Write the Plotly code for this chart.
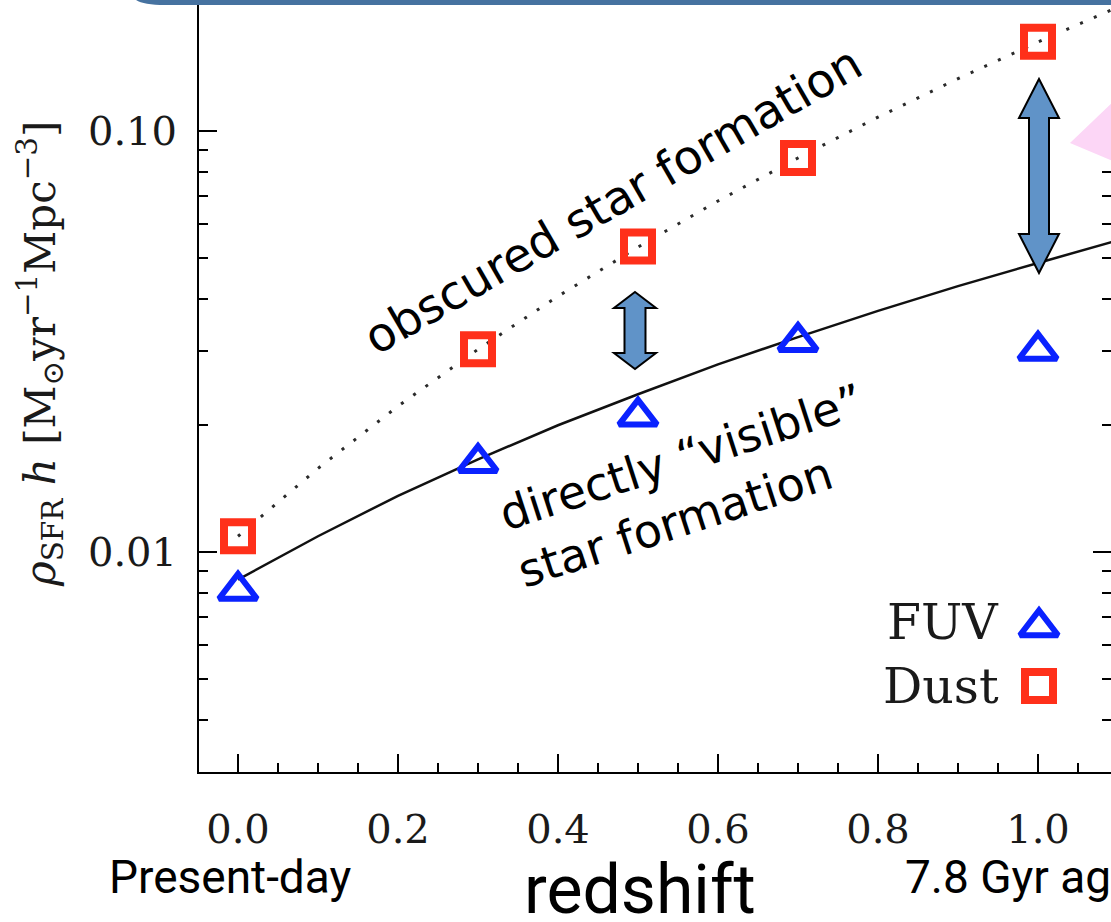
import plotly.graph_objects as go

# ---------------- data ----------------
REDSHIFT_POINTS = [0.0, 0.3, 0.5, 0.7, 1.0]
FUV_SFRD = [0.0081, 0.0163, 0.0210, 0.0316, 0.0301]
DUST_SFRD = [0.0109, 0.0303, 0.0532, 0.0863, 0.163]

CURVE_Z = [0.0, 0.1, 0.2, 0.3, 0.4, 0.5, 0.6, 0.7, 0.8, 0.9, 1.0, 1.1]
VISIBLE_CURVE = [0.0086, 0.0109, 0.0136, 0.0166, 0.0200, 0.0237, 0.0279,
                 0.0324, 0.0374, 0.0428, 0.0486, 0.0550]
OBSCURED_CURVE = [0.0109, 0.0158, 0.0222, 0.0303, 0.0405, 0.0530, 0.0682,
                  0.0863, 0.1079, 0.1332, 0.1627, 0.197]

X_TICK_VALUES = [0.0, 0.2, 0.4, 0.6, 0.8, 1.0]
X_TICK_LABELS = ["0.0", "0.2", "0.4", "0.6", "0.8", "1.0"]
Y_TICK_VALUES = [0.01, 0.1]
Y_TICK_LABELS = ["0.01", "0.10"]
Y_MINOR_VALUES = [0.004, 0.005, 0.006, 0.007, 0.008, 0.009,
                  0.02, 0.03, 0.04, 0.05, 0.06, 0.07, 0.08, 0.09, 0.2]
LEGEND_LABELS = ["FUV", "Dust"]

# ---------------- layout constants ----------------
W, H = 1111, 922
ML, MR, MT, MB = 199, 0, 0, 150
PW, PH = W - ML - MR, H - MT - MB


def px(x):
    return (x - ML) / PW


def py(y):
    return (MT + PH - y) / PH


SERIF = "DejaVu Serif"
SANS = "DejaVu Sans"
SLIDE = "Roboto"
BLUE = "#0a22ff"
RED = "#ff301a"
ARROW_FILL = "#6093c8"
TRI_SIZE, TRI_LW = 33, 6
SQ_SIZE, SQ_LW = 28, 8

fig = go.Figure()

fig.add_trace(go.Scatter(x=CURVE_Z, y=OBSCURED_CURVE, mode="lines",
                         line=dict(color="#2a2a2a", width=3, dash="3px,12px"),
                         hoverinfo="skip", showlegend=False))
fig.add_trace(go.Scatter(x=CURVE_Z, y=VISIBLE_CURVE, mode="lines",
                         line=dict(color="#111111", width=2.5),
                         hoverinfo="skip", showlegend=False))
fig.add_trace(go.Scatter(x=REDSHIFT_POINTS, y=FUV_SFRD, mode="markers", name="FUV",
                         marker=dict(symbol="triangle-up-open", size=TRI_SIZE, color=BLUE,
                                     opacity=1, line=dict(color=BLUE, width=TRI_LW)),
                         showlegend=False))
fig.add_trace(go.Scatter(x=REDSHIFT_POINTS, y=DUST_SFRD, mode="markers", name="Dust",
                         marker=dict(symbol="square-open", size=SQ_SIZE, color=RED,
                                     opacity=1, line=dict(color=RED, width=SQ_LW)),
                         showlegend=False))
# trace that carries the mirrored right-hand y axis ticks
fig.add_trace(go.Scatter(x=REDSHIFT_POINTS, y=DUST_SFRD, mode="markers", yaxis="y2",
                         marker=dict(opacity=0), hoverinfo="skip", showlegend=False))
# legend keys (symbols to the right of the text, as in the original)
KEY_X = [px(1039), px(1039)]
KEY_Y = [py(627), py(686)]
fig.add_trace(go.Scatter(x=KEY_X, y=KEY_Y, xaxis="x3", yaxis="y3", mode="markers",
                         marker=dict(symbol=["triangle-up-open", "square-open"],
                                     size=[TRI_SIZE, SQ_SIZE], color=[BLUE, RED], opacity=1,
                                     line=dict(color=[BLUE, RED], width=[TRI_LW, SQ_LW])),
                         hoverinfo="skip", showlegend=False))

YR = [-2.5226, -0.6888]
XR = [-0.04875, 1.09125]
axis_font = dict(family=SERIF, size=40, color="#1a1a1a")

fig.update_layout(
    width=W, height=H,
    margin=dict(l=ML, r=MR, t=MT, b=MB, pad=0),
    paper_bgcolor="white", plot_bgcolor="white",
    showlegend=False,
    xaxis=dict(range=XR, showgrid=False, zeroline=False, showline=True,
               linecolor="black", linewidth=2,
               tickmode="array", tickvals=X_TICK_VALUES, ticktext=X_TICK_LABELS,
               ticks="inside", ticklen=18, tickwidth=2, tickcolor="black",
               minor=dict(ticks="inside", ticklen=9, tickwidth=1.5, tickcolor="black",
                          dtick=0.05, showgrid=False),
               tickfont=axis_font, ticklabelstandoff=21),
    yaxis=dict(type="log", range=YR, showgrid=False, zeroline=False, showline=True,
               linecolor="black", linewidth=2,
               tickmode="array", tickvals=Y_TICK_VALUES, ticktext=Y_TICK_LABELS,
               ticks="inside", ticklen=18, tickwidth=2, tickcolor="black",
               minor=dict(ticks="inside", ticklen=9, tickwidth=1.5, tickcolor="black",
                          tickmode="array", tickvals=Y_MINOR_VALUES, showgrid=False),
               tickfont=axis_font, ticklabelstandoff=12),
    yaxis2=dict(type="log", range=YR, overlaying="y", side="right", anchor="x",
                showgrid=False, zeroline=False, showline=False, showticklabels=False,
                tickmode="array", tickvals=Y_TICK_VALUES,
                ticks="inside", ticklen=18, tickwidth=2, tickcolor="black",
                minor=dict(ticks="inside", ticklen=9, tickwidth=1.5, tickcolor="black",
                           tickmode="array", tickvals=Y_MINOR_VALUES, showgrid=False)),
    xaxis3=dict(range=[0, 1], overlaying="x", visible=False, fixedrange=True),
    yaxis3=dict(range=[0, 1], overlaying="y", visible=False, fixedrange=True, anchor="x3"),
)


def double_arrow(cx, top, bottom, head_h, head_w, shaft_w):
    hw, sw = head_w / 2, shaft_w / 2
    pts = [(cx, top), (cx + hw, top + head_h), (cx + sw, top + head_h),
           (cx + sw, bottom - head_h), (cx + hw, bottom - head_h), (cx, bottom),
           (cx - hw, bottom - head_h), (cx - sw, bottom - head_h),
           (cx - sw, top + head_h), (cx - hw, top + head_h)]
    return "M " + " L ".join(f"{px(a):.5f},{py(b):.5f}" for a, b in pts) + " Z"


shapes = [
    # slide banner at the top
    dict(type="path", xref="paper", yref="paper",
         path=(f"M {px(133):.5f},{py(-3):.5f} Q {px(138):.5f},{py(5):.5f} {px(165):.5f},{py(5):.5f} "
               f"L {px(1120):.5f},{py(5):.5f} L {px(1120):.5f},{py(-3):.5f} Z"),
         fillcolor="#4672a0", line=dict(width=0)),
    # pink pointer at the right edge
    dict(type="path", xref="paper", yref="paper",
         path=f"M {px(1070):.5f},{py(143):.5f} L {px(1115):.5f},{py(100):.5f} L {px(1115):.5f},{py(162):.5f} Z",
         fillcolor="#fcd6f6", line=dict(width=0)),
    dict(type="path", xref="paper", yref="paper",
         path=double_arrow(635, 292, 369, 16, 42, 21),
         fillcolor=ARROW_FILL, line=dict(color="black", width=2)),
    dict(type="path", xref="paper", yref="paper",
         path=double_arrow(1039, 79, 273, 39, 40, 20),
         fillcolor=ARROW_FILL, line=dict(color="black", width=2)),
]
fig.update_layout(shapes=shapes)

ann = [
    dict(text="obscured star formation", x=px(612), y=py(200), textangle=-30,
         font=dict(family=SANS, size=47, color="black")),
    dict(text="directly \u201cvisible\u201d<br>star formation", x=px(690), y=py(486),
         textangle=-18, align="left", font=dict(family=SANS, size=46, color="black")),
    dict(text="<i>\u03c1</i><sub>SFR</sub> <i>h</i> [M<sub>\u2299</sub>yr<sup>\u22121</sup>Mpc<sup>\u22123</sup>]",
         x=px(40), y=py(354), textangle=-90,
         font=dict(family=SERIF, size=42, color="#1a1a1a")),
    dict(text=LEGEND_LABELS[0], x=px(1001), y=py(622), xanchor="right",
         font=dict(family=SERIF, size=49, color="#1a1a1a")),
    dict(text=LEGEND_LABELS[1], x=px(1001), y=py(686), xanchor="right",
         font=dict(family=SERIF, size=49, color="#1a1a1a")),
    dict(text="Present-day", x=px(230), y=py(877),
         font=dict(family=SLIDE, size=46, color="black")),
    dict(text="redshift", x=px(640), y=py(890),
         font=dict(family=SLIDE, size=68, color="black")),
    dict(text="7.8 Gyr ago", x=px(903), y=py(877), xanchor="left",
         font=dict(family=SLIDE, size=46, color="black")),
]
for a in ann:
    a.setdefault("xref", "paper")
    a.setdefault("yref", "paper")
    a.setdefault("showarrow", False)
    a.setdefault("xanchor", "center")
    a.setdefault("yanchor", "middle")
fig.update_layout(annotations=ann)

fig.write_html("out.html")
